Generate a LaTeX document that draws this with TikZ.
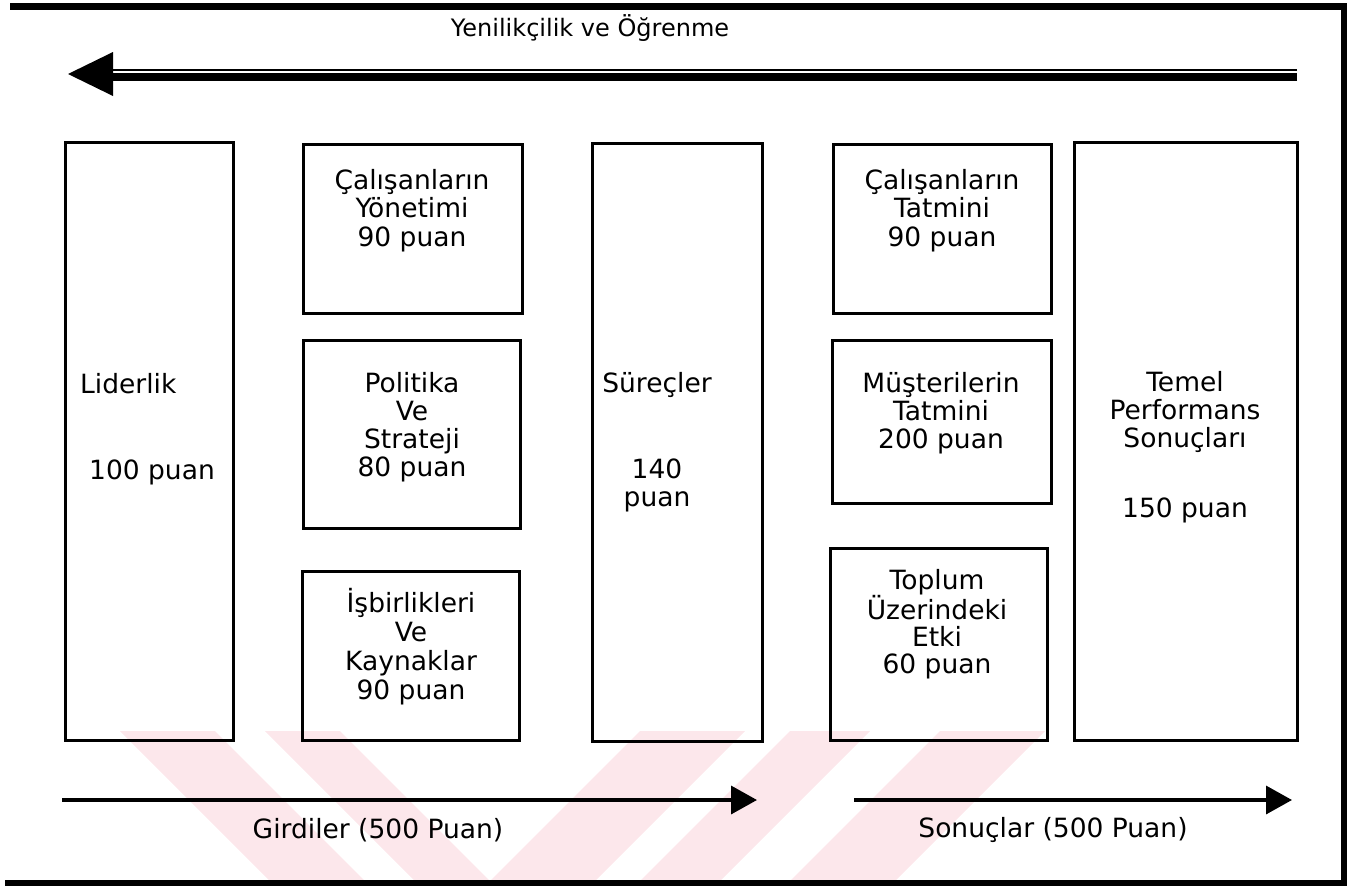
\documentclass[tikz,border=0pt]{standalone}
\usepackage{fontspec}
\setmainfont{DejaVu Sans}
\usetikzlibrary{arrows.meta}
\definecolor{wmpink}{RGB}{252,231,235}
\begin{document}
\begin{tikzpicture}[x=1pt,y=-1pt,
  box/.style={draw, line width=3pt, inner sep=0pt},
  lbl/.style={font=\fontsize{26.5}{#1}\selectfont, align=center, inner sep=0pt, anchor=north},
  lbl/.default=29,
  flow/.style={line width=3.5pt, -{Triangle[length=26pt,width=28pt]}}
]
\useasboundingbox (0,0) rectangle (1353,886);

% faint striped background band along the bottom
\begin{scope}
  \clip (0,731) rectangle (1340,880);
  \fill[wmpink] (120,731) -- (215,731) -- (364,880) -- (269,880) -- cycle;
  \fill[wmpink] (265,731) -- (340,731) -- (489,880) -- (414,880) -- cycle;
  \fill[wmpink] (640,731) -- (745,731) -- (596,880) -- (491,880) -- cycle;
  \fill[wmpink] (790,731) -- (870,731) -- (721,880) -- (641,880) -- cycle;
  \fill[wmpink] (940,731) -- (1045,731) -- (896,880) -- (791,880) -- cycle;
\end{scope}

% outer frame (open on the left)
\coordinate (fa) at (10,6.5);
\coordinate (fb) at (1344,6.5);
\coordinate (fc) at (1344,883);
\coordinate (fd) at (5,883);
\draw[line width=6.5pt] (fa) -- (fb) -- (fc) -- (fd);

% top double arrow
\node[lbl, font=\fontsize{24}{28}\selectfont] (yen) at (590,12) {\rule{0pt}{24pt}Yenilikçilik ve Öğrenme};
\coordinate (ta) at (1297,77);
\coordinate (tb) at (113,77);
\coordinate (tc) at (1297,70);
\coordinate (td) at (113,70);
\coordinate (tip) at (68,74);
\coordinate (tu) at (113,52);
\coordinate (tl) at (113,96);
\draw[line width=7.7pt] (ta) -- (tb);
\draw[line width=2.5pt] (tc) -- (td);
\fill (tip) -- (tu) -- (tl) -- cycle;

% criterion boxes
\node[box, minimum width=168pt, minimum height=598pt] (lid) at (149,441) {};
\node[box, minimum width=219pt, minimum height=169pt] (yon) at (412.5,228.5) {};
\node[box, minimum width=217pt, minimum height=188pt] (pol) at (411.5,434) {};
\node[box, minimum width=217pt, minimum height=169pt] (isb) at (410.5,655.5) {};
\node[box, minimum width=170pt, minimum height=598pt] (sur) at (677,442) {};
\node[box, minimum width=218pt, minimum height=169pt] (cta) at (942,228.5) {};
\node[box, minimum width=219pt, minimum height=163pt] (mus) at (941.5,421.5) {};
\node[box, minimum width=217pt, minimum height=192pt] (tpl) at (938.5,644) {};
\node[box, minimum width=223pt, minimum height=598pt] (tem) at (1185.5,441) {};

% box texts
\node[lbl, anchor=north west] (lidT) at (80,367) {\rule{0pt}{26pt}Liderlik};
\node[lbl] (lidP) at (152,453) {\rule{0pt}{26pt}100 puan};
\node[lbl=28.5] (yonT) at (412,163) {\rule{0pt}{26pt}Çalışanların\\Yönetimi\\90 puan};
\node[lbl=28] (polT) at (412,366) {\rule{0pt}{26pt}Politika\\Ve\\Strateji\\80 puan};
\node[lbl=29] (isbT) at (411,586) {\rule{0pt}{26pt}İşbirlikleri\\Ve\\Kaynaklar\\90 puan};
\node[lbl=28] (surT) at (657,366) {\rule{0pt}{26pt}Süreçler\\[58pt]140\\puan};
\node[lbl=28.5] (ctaT) at (942,163) {\rule{0pt}{26pt}Çalışanların\\Tatmini\\90 puan};
\node[lbl=28] (musT) at (941,366) {\rule{0pt}{26pt}Müşterilerin\\Tatmini\\200 puan};
\node[lbl=27] (tplT) at (937,563) {\rule{0pt}{26pt}Toplum\\Üzerindeki\\Etki\\60 puan};
\node[lbl=28] (temT) at (1185,365) {\rule{0pt}{26pt}Temel\\Performans\\Sonuçları\\[42pt]150 puan};

% input / result flows
\coordinate (ga) at (62,800);
\coordinate (gb) at (757,800);
\coordinate (sa) at (854,800);
\coordinate (sb) at (1292,800);
\draw[flow] (ga) -- (gb);
\draw[flow] (sa) -- (sb);
\node[lbl] (gir) at (378,812) {\rule{0pt}{26pt}Girdiler (500 Puan)};
\node[lbl] (son) at (1053,811) {\rule{0pt}{26pt}Sonuçlar (500 Puan)};
\end{tikzpicture}
\end{document}
